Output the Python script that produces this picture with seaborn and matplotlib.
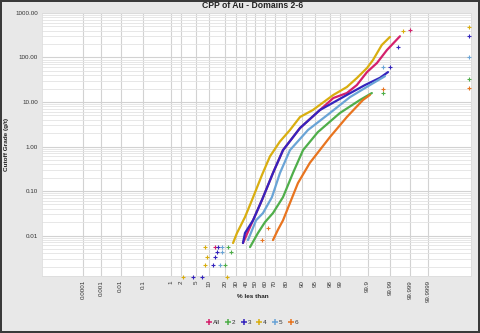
import math
from statistics import NormalDist

import numpy as np
import pandas as pd
import matplotlib
matplotlib.use("Agg")
import matplotlib.pyplot as plt
from matplotlib.lines import Line2D
from matplotlib.ticker import FixedLocator, FixedFormatter, LogLocator, NullFormatter, NullLocator
import seaborn as sns

# ---------------- data ----------------
TITLE = "CPP of Au - Domains 2-6"
X_LABEL = "% les than"
Y_LABEL = "Cutoff Grade (g/t)"
SERIES = ["All", "2", "3", "4", "5", "6"]

X_TICKS = [0.0001, 0.001, 0.01, 0.1, 1, 2, 5, 10, 20, 30, 40, 50, 60, 70, 80,
           90, 95, 98, 99, 99.9, 99.99, 99.999, 99.9999]
X_TICK_LABELS = ["0.0001", "0.001", "0.01", "0.1", "1", "2", "5", "10", "20", "30",
                 "40", "50", "60", "70", "80", "90", "95", "98", "99", "99.9",
                 "99.99", "99.999", "99.9999"]
Y_TICKS = [0.01, 0.1, 1, 10, 100, 1000]
Y_TICK_LABELS = ["0.01", "0.10", "1.00", "10.00", "100.00", "1000.00"]

# continuous curves (% less than, grade g/t)
ALL_PCT = [36.5, 47.3, 57.1, 68.5, 77.6, 89.0, 96.2, 98.4, 99.41, 99.74, 99.894, 99.959, 99.9854, 99.99657]
ALL_GRADE = [0.0068, 0.022, 0.063, 0.254, 0.83, 2.6, 6.6, 12.3, 15.9, 24.1, 47.0, 75.0, 147.0, 300.0]
D2_PCT = [44.0, 52.7, 60.3, 68.5, 77.6, 84.9, 90.5, 95.7, 99.00, 99.80, 99.933]
D2_GRADE = [0.0055, 0.0114, 0.020, 0.032, 0.073, 0.254, 0.83, 2.1, 5.66, 11.1, 15.9]
D3_PCT = [36.5, 38.6, 47.3, 57.1, 68.5, 77.6, 89.0, 96.2, 99.41, 99.872, 99.970, 99.987]
D3_GRADE = [0.0068, 0.0114, 0.022, 0.063, 0.254, 0.83, 2.6, 6.6, 14.4, 24.0, 35.0, 47.0]
D4_PCT = [26.8, 30.5, 38.6, 46.2, 57.1, 65.5, 75.0, 82.9, 89.0, 94.3, 98.4, 99.41, 99.74, 99.894, 99.940, 99.975, 99.9894]
D4_GRADE = [0.0068, 0.0114, 0.026, 0.063, 0.23, 0.6, 1.3, 2.35, 4.6, 6.6, 14.4, 21.7, 34.6, 58.0, 88.0, 191.0, 289.0]
D5_PCT = [41.8, 50.6, 58.2, 67.5, 75.0, 82.9, 92.6, 97.99, 99.54, 99.919, 99.982]
D5_GRADE = [0.0079, 0.022, 0.032, 0.073, 0.254, 0.83, 2.35, 5.66, 12.9, 24.0, 38.0]
D6_PCT = [68.5, 73.2, 77.6, 82.9, 87.9, 93.3, 97.99, 99.41, 99.847, 99.919]
D6_GRADE = [0.0079, 0.0135, 0.022, 0.054, 0.151, 0.43, 1.63, 4.6, 11.1, 14.4]

# isolated samples (low detection-limit values and top values)
ALL_DOT_PCT = [13.2, 99.99896]
ALL_DOT_GRADE = [0.0055, 410.0]
D2_DOT_PCT = [22.4, 20.0, 25.0, 99.978, 99.9999998]
D2_DOT_GRADE = [0.0055, 0.0022, 0.0043, 15.9, 33.0]
D3_DOT_PCT = [15.1, 14.2, 13.2, 12.1, 4.25, 7.0, 99.9957, 99.9894, 99.9999998]
D3_DOT_GRADE = [0.0055, 0.0043, 0.0033, 0.0022, 0.0012, 0.0012, 172.0, 61.0, 304.0]
D4_DOT_PCT = [8.2, 9.1, 8.2, 2.3, 21.6, 99.9976, 99.9999998]
D4_DOT_GRADE = [0.0055, 0.0033, 0.0022, 0.0012, 0.0012, 390.0, 484.0]
D5_DOT_PCT = [17.8, 17.8, 16.4, 99.978, 99.9999998]
D5_DOT_GRADE = [0.0055, 0.0043, 0.0022, 61.0, 100.0]
D6_DOT_PCT = [57.1, 63.5, 99.978, 99.9999998]
D6_DOT_GRADE = [0.0079, 0.0148, 19.6, 21.0]

COLORS = {"All": "#d4206c", "2": "#4fae4a", "3": "#3424bd",
          "4": "#d9ae10", "5": "#6aa4d6", "6": "#e8741f"}

curves = {"All": (ALL_PCT, ALL_GRADE), "2": (D2_PCT, D2_GRADE), "3": (D3_PCT, D3_GRADE),
          "4": (D4_PCT, D4_GRADE), "5": (D5_PCT, D5_GRADE), "6": (D6_PCT, D6_GRADE)}
dots = {"All": (ALL_DOT_PCT, ALL_DOT_GRADE), "2": (D2_DOT_PCT, D2_DOT_GRADE),
        "3": (D3_DOT_PCT, D3_DOT_GRADE), "4": (D4_DOT_PCT, D4_DOT_GRADE),
        "5": (D5_DOT_PCT, D5_DOT_GRADE), "6": (D6_DOT_PCT, D6_DOT_GRADE)}

curve_df = pd.concat([pd.DataFrame({"series": s, "pct": p, "grade": g})
                      for s, (p, g) in curves.items()], ignore_index=True)
dot_df = pd.concat([pd.DataFrame({"series": s, "pct": p, "grade": g})
                    for s, (p, g) in dots.items()], ignore_index=True)

# ---------------- probability scale ----------------
_nd = NormalDist()
_inv_cdf = np.vectorize(lambda p: _nd.inv_cdf(p) if np.isfinite(p) else np.nan, otypes=[float])
_erf = np.vectorize(math.erf, otypes=[float])


def prob_forward(pct):
    p = np.asarray(pct, dtype=float) / 100.0
    p = np.where(np.isfinite(p), np.clip(p, 1e-13, 1 - 1e-13), np.nan)
    return _inv_cdf(p)


def prob_inverse(z):
    z = np.asarray(z, dtype=float)
    return 50.0 * (1.0 + _erf(z / math.sqrt(2.0)))


# ---------------- figure ----------------
sns.set_theme(style="white")
plt.rcParams["font.family"] = ["Liberation Sans", "DejaVu Sans"]

fig = plt.figure(figsize=(4.8, 3.33), dpi=100, facecolor="#e8e8e8",
                 edgecolor="#3a3a3a", linewidth=1.5)
ax = fig.add_axes([0.0875, 0.171, 0.894, 0.790])
ax.set_facecolor("white")

for s in SERIES:
    sub = curve_df[curve_df["series"] == s]
    sns.lineplot(data=sub, x="pct", y="grade", color=COLORS[s], lw=1.6,
                 estimator=None, sort=False, legend=False, ax=ax, zorder=3)
for s in SERIES:
    sub = dot_df[dot_df["series"] == s]
    sns.scatterplot(data=sub, x="pct", y="grade", color=COLORS[s], marker="+",
                    s=6, linewidth=0.8, legend=False, ax=ax, zorder=4, clip_on=False)

ax.set_xscale("function", functions=(prob_forward, prob_inverse))
ax.set_yscale("log")
ax.set_xlim(2.0e-7, 100 - 1.4e-7)
ax.set_ylim(0.00123, 1000)

ax.xaxis.set_major_locator(FixedLocator(X_TICKS))
ax.xaxis.set_major_formatter(FixedFormatter(X_TICK_LABELS))
ax.xaxis.set_minor_locator(NullLocator())
ax.yaxis.set_major_locator(FixedLocator(Y_TICKS))
ax.yaxis.set_major_formatter(FixedFormatter(Y_TICK_LABELS))
ax.yaxis.set_minor_locator(LogLocator(base=10, subs=np.arange(2, 10)))
ax.yaxis.set_minor_formatter(NullFormatter())

ax.grid(True, which="major", axis="both", color="#d2d2d2", lw=0.8, zorder=0)
ax.grid(True, which="minor", axis="y", color="#e3e3e3", lw=0.6, zorder=0)
ax.set_axisbelow(True)

ax.tick_params(axis="x", length=0, pad=3, labelsize=4.5, rotation=90, colors="#333333")
ax.tick_params(axis="y", length=0, pad=3, labelsize=4.5, colors="#333333")
for lab in ax.get_xticklabels():
    lab.set_va("top")
for sp in ax.spines.values():
    sp.set_color("#dddddd")
    sp.set_linewidth(0.6)

ax.set_xlabel("")
ax.set_ylabel("")
fig.text(0.527, 0.982, TITLE, ha="center", va="center", fontsize=6.2, fontweight="bold",
         color="#222222")
fig.text(0.527, 0.111, X_LABEL, ha="center", va="center", fontsize=4.6, fontweight="bold",
         color="#222222")
fig.text(0.013, 0.567, Y_LABEL, ha="center", va="center", rotation=90, fontsize=4.6,
         fontweight="bold", color="#222222")

handles = [Line2D([], [], linestyle="none", marker="+", markersize=4.5, mew=1.1,
                  color=COLORS[s]) for s in SERIES]
fig.legend(handles, SERIES, loc="center", bbox_to_anchor=(0.525, 0.031), ncol=6,
           frameon=False, fontsize=4.6, handletextpad=0.1, columnspacing=0.8,
           handlelength=1.0, labelcolor="#333333")

fig.savefig("out.png", dpi=100, facecolor=fig.get_facecolor(), edgecolor=fig.get_edgecolor())
